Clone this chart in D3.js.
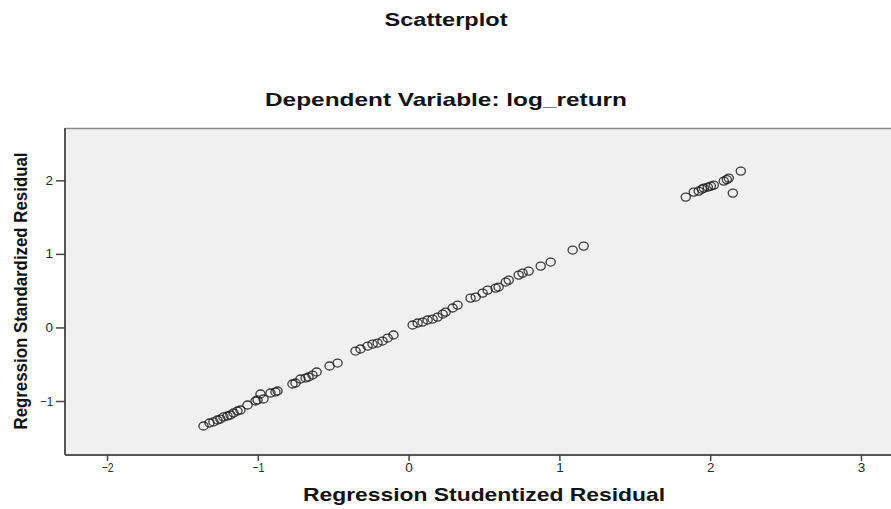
<!DOCTYPE html>
<html>
<head>
<meta charset="utf-8">
<script src="https://cdn.jsdelivr.net/npm/d3@7"></script>
<style>
  html, body { margin: 0; padding: 0; background: #ffffff; }
  svg { display: block; }
</style>
</head>
<body>
<svg id="chart" width="891" height="509"></svg>
<script>
// ---- data ----
const studentized = [
  -1.360, -1.320, -1.294, -1.268, -1.248, -1.228, -1.201, -1.181, -1.161, -1.135, -1.115,
  -1.068, -1.015, -1.002, -0.982, -0.962, -0.916, -0.883, -0.869,
  -0.770, -0.750, -0.717, -0.683, -0.664, -0.637, -0.610, -0.524, -0.471,
  -0.352, -0.319, -0.272, -0.239, -0.206, -0.173, -0.139, -0.100,
  0.027, 0.060, 0.093, 0.126, 0.159, 0.192, 0.226, 0.246, 0.292, 0.325,
  0.411, 0.445, 0.491, 0.524, 0.577, 0.597, 0.644, 0.664, 0.730, 0.756, 0.796,
  0.876, 0.942, 1.088, 1.161,
  1.838, 1.891, 1.924, 1.945, 1.958, 1.984, 2.004, 2.024, 2.090, 2.110, 2.123, 2.203, 2.150
];
const standardized = [
  -1.340, -1.299, -1.285, -1.258, -1.245, -1.217, -1.204, -1.190, -1.163, -1.136, -1.122,
  -1.054, -1.000, -0.986, -0.905, -0.973, -0.891, -0.878, -0.864,
  -0.769, -0.755, -0.701, -0.688, -0.674, -0.647, -0.606, -0.524, -0.484,
  -0.321, -0.293, -0.253, -0.226, -0.212, -0.185, -0.144, -0.103,
  0.033, 0.060, 0.073, 0.101, 0.114, 0.141, 0.182, 0.209, 0.264, 0.304,
  0.399, 0.413, 0.467, 0.508, 0.535, 0.549, 0.617, 0.644, 0.712, 0.739, 0.766,
  0.834, 0.889, 1.052, 1.106,
  1.772, 1.840, 1.853, 1.880, 1.894, 1.908, 1.921, 1.935, 1.989, 2.010, 2.030, 2.125, 1.826
];
const xTicks = [-2, -1, 0, 1, 2, 3];
const yTicks = [-1, 0, 1, 2];
const titleText = "Scatterplot";
const subtitleText = "Dependent Variable: log_return";
const xTitle = "Regression Studentized Residual";
const yTitle = "Regression Standardized Residual";

const points = studentized.map((x, i) => ({ x, y: standardized[i] }));

// ---- layout ----
const svg = d3.select("#chart");
const plot = { left: 65, top: 128, right: 892, bottom: 455 };

const x = d3.scaleLinear().domain([-2.2785, 3.2056]).range([plot.left, plot.right]);
const y = d3.scaleLinear().domain([-1.734, 2.711]).range([plot.bottom, plot.top]);

// background
svg.append("rect")
  .attr("x", plot.left).attr("y", plot.top)
  .attr("width", plot.right - plot.left).attr("height", plot.bottom - plot.top)
  .attr("fill", "#f0f0f0");

// top border
svg.append("line")
  .attr("x1", plot.left).attr("x2", plot.right)
  .attr("y1", plot.top + 0.5).attr("y2", plot.top + 0.5)
  .attr("stroke", "#888").attr("stroke-width", 1.5);

// points
svg.append("g").selectAll("ellipse")
  .data(points).join("ellipse")
  .attr("cx", d => x(d.x)).attr("cy", d => y(d.y))
  .attr("rx", 4.6).attr("ry", 4)
  .attr("fill", "none")
  .attr("stroke", "#1a1a1a")
  .attr("stroke-opacity", 0.85)
  .attr("stroke-width", 1.3);

// axes
const xAxis = d3.axisBottom(x).tickValues(xTicks).tickSize(6).tickPadding(2).tickFormat(d3.format("d"));
const yAxis = d3.axisLeft(y).tickValues(yTicks).tickSize(9).tickPadding(3).tickFormat(d3.format("d"));

const gx = svg.append("g").attr("transform", `translate(0,${plot.bottom})`).call(xAxis);
const gy = svg.append("g").attr("transform", `translate(${plot.left},0)`).call(yAxis);

[gx, gy].forEach(g => {
  g.select(".domain").attr("stroke", "#555").attr("stroke-width", 2);
  g.selectAll(".tick line").attr("stroke", "#444").attr("stroke-width", 1.5);
  g.selectAll(".tick text")
    .attr("fill", "#2a2a2a")
    .style("font-family", "'Liberation Sans', Arial, sans-serif")
    .style("font-size", "12.5px");
});
gx.select(".domain").attr("d", `M${plot.left},0H${plot.right}`);
gy.select(".domain").attr("d", `M0,${plot.top}V${plot.bottom}`);
gx.selectAll(".tick text").attr("textLength", function() { return this.textContent.length > 1 ? 12 : 7.5; })
  .attr("lengthAdjust", "spacingAndGlyphs");
gy.selectAll(".tick text").attr("textLength", function() { return this.textContent.length > 1 ? 13 : 7.5; })
  .attr("lengthAdjust", "spacingAndGlyphs");

// titles
const font = "'Liberation Sans', Arial, sans-serif";
svg.append("text")
  .attr("x", 446).attr("y", 26)
  .attr("text-anchor", "middle")
  .attr("textLength", 123).attr("lengthAdjust", "spacingAndGlyphs")
  .style("font-family", font).style("font-weight", "bold").style("font-size", "18px")
  .attr("fill", "#111")
  .text(titleText);

svg.append("text")
  .attr("x", 446).attr("y", 106)
  .attr("text-anchor", "middle")
  .attr("textLength", 362).attr("lengthAdjust", "spacingAndGlyphs")
  .style("font-family", font).style("font-weight", "bold").style("font-size", "19px")
  .attr("fill", "#111")
  .text(subtitleText);

svg.append("text")
  .attr("x", 484).attr("y", 501)
  .attr("text-anchor", "middle")
  .attr("textLength", 362).attr("lengthAdjust", "spacingAndGlyphs")
  .style("font-family", font).style("font-weight", "bold").style("font-size", "19px")
  .attr("fill", "#111")
  .text(xTitle);

svg.append("text")
  .attr("transform", "translate(27,291) rotate(-90)")
  .attr("text-anchor", "middle")
  .attr("textLength", 277).attr("lengthAdjust", "spacingAndGlyphs")
  .style("font-family", font).style("font-weight", "bold").style("font-size", "19px")
  .attr("fill", "#111")
  .text(yTitle);
</script>
</body>
</html>
